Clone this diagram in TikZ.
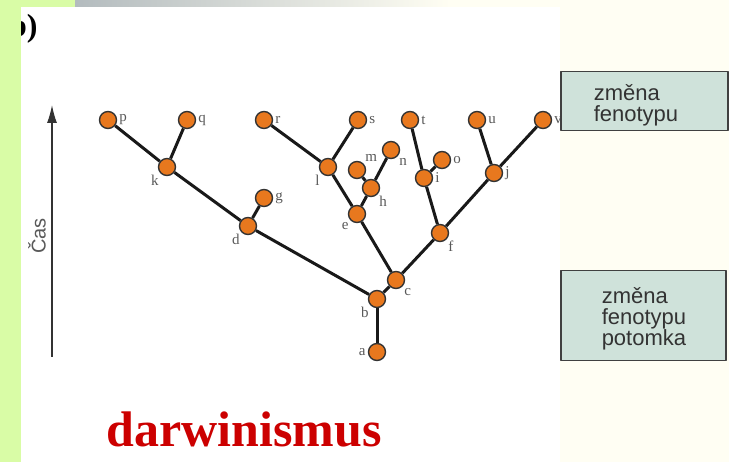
\documentclass[tikz,border=0pt]{standalone}
\usepackage{fontspec}
\setmainfont{Liberation Serif}
\setsansfont{Liberation Sans}
\usetikzlibrary{arrows.meta}
\definecolor{leafgreen}{HTML}{D9FCA6}
\definecolor{cream}{HTML}{FFFEF3}
\definecolor{stripgray}{HTML}{B3BBBE}
\definecolor{taxonorange}{HTML}{E8781E}
\definecolor{boxteal}{HTML}{CFE2DA}
\definecolor{titlered}{HTML}{CC0000}

\begin{document}
\begin{tikzpicture}[x=1pt,y=-1pt,line join=round,
    lbl/.style={font=\fontsize{15}{15}\selectfont,text=black!65,inner sep=1pt,label distance=1pt},
    note/.style={draw=black!75,line width=1.5pt,fill=boxteal,anchor=north west,inner sep=0pt,
        font=\sffamily\fontsize{22}{21}\selectfont,text=black!80,align=left}]
\tikzstyle{taxon}=[circle,fill=taxonorange,draw=black!80,line width=1.4pt,minimum size=17pt,inner sep=0pt]
\tikzstyle{branch}=[line width=3pt,black!90]

\useasboundingbox (0,0) rectangle (729,462);
\fill[white] (0,0) rectangle (729,462);
\fill[cream] (560,0) rectangle (729,462);
\shade[left color=stripgray,right color=cream] (75,0) rectangle (450,7);
\fill[cream] (450,0) rectangle (729,7);

\node[anchor=east,font=\bfseries\fontsize{32}{32}\selectfont] (panel) at (41,29) {b)};
\fill[leafgreen] (0,0) rectangle (21,462);
\fill[leafgreen] (21,0) rectangle (75,7);

% time axis
\coordinate (tlow) at (52,357);
\coordinate (thigh) at (52,105);
\draw[line width=1.3pt,black!80,-{Latex[length=18pt,width=10pt]}] (tlow) -- (thigh);
\node[rotate=90,font=\sffamily\fontsize{20}{20}\selectfont,text=black!65] (time) at (37,236) {Čas};

% tree
\node[taxon,label={[lbl]left:a}]        (a) at (377,352) {};
\node[taxon,label={[lbl]below left:b}]  (b) at (377,299) {};
\node[taxon,label={[lbl]below right:c}] (c) at (396,280) {};
\node[taxon,label={[lbl]below left:d}]  (d) at (248,226) {};
\node[taxon,label={[lbl]below left:e}]  (e) at (357,214) {};
\node[taxon,label={[lbl]below right:f}] (f) at (440,233) {};
\node[taxon,label={[lbl]right:g}]       (g) at (264,198) {};
\node[taxon,label={[lbl]below right:h}] (h) at (371,188) {};
\node[taxon,label={[lbl]right:i}]       (i) at (424,178) {};
\node[taxon,label={[lbl]right:j}]       (j) at (494,173) {};
\node[taxon,label={[lbl]below left:k}]  (k) at (167,167) {};
\node[taxon,label={[lbl]below left:l}]  (l) at (328,167) {};
\node[taxon,label={[lbl]above right:m}] (m) at (357,170) {};
\node[taxon,label={[lbl]below right:n}] (n) at (391,150) {};
\node[taxon,label={[lbl]right:o}]       (o) at (442,160) {};
\node[taxon,label={[lbl]right:p}]       (p) at (108,120) {};
\node[taxon,label={[lbl]right:q}]       (q) at (187,120) {};
\node[taxon,label={[lbl]right:r}]       (r) at (264,120) {};
\node[taxon,label={[lbl]right:s}]       (s) at (358,120) {};
\node[taxon,label={[lbl]right:t}]       (t) at (410,120) {};
\node[taxon,label={[lbl]right:u}]       (u) at (477,120) {};
\node[taxon,label={[lbl]right:v}]       (v) at (543,120) {};

\path[branch] (a) edge (b)
      (b) edge (c) edge (d)
      (c) edge (e) edge (f)
      (d) edge (k) edge (g)
      (k) edge (p) edge (q)
      (e) edge (l) edge (h)
      (l) edge (r) edge (s)
      (h) edge (m) edge (n)
      (f) edge (i) edge (j)
      (i) edge (t) edge (o)
      (j) edge (u) edge (v)
;

% legend boxes
\node[note,minimum width=167pt,minimum height=59pt] (phen) at (560,71) {};
\node[note,draw=none,fill=none,anchor=west] (phentext) at (593,105) {změna\\fenotypu};
\node[note,minimum width=165pt,minimum height=90pt] (off) at (560,270) {};
\node[note,draw=none,fill=none,anchor=west] (offtext) at (601,319) {změna\\fenotypu\\potomka};

\node[anchor=base west,text=titlered,font=\bfseries\fontsize{50}{50}\selectfont] (title) at (103,447) {darwinismus};
\end{tikzpicture}
\end{document}
